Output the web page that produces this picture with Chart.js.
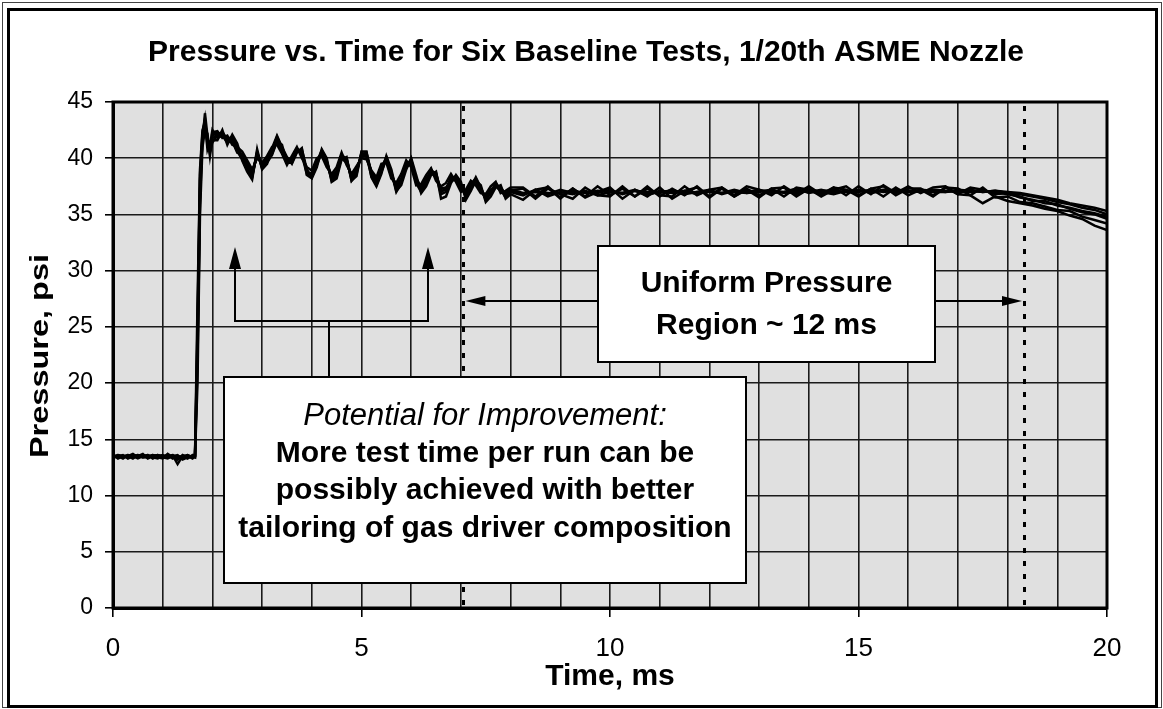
<!DOCTYPE html>
<html>
<head>
<meta charset="utf-8">
<script src="https://cdn.jsdelivr.net/npm/chart.js@4/dist/chart.umd.min.js"></script>
<style>
  html,body{margin:0;padding:0;background:#fff;}
  #wrap{width:1163px;height:709px;}
</style>
</head>
<body>
<div id="wrap"><canvas id="c" width="1163" height="709"></canvas></div>
<script>
// ---------------- DATA ----------------
const chartTitle = "Pressure vs. Time for Six Baseline Tests, 1/20th ASME Nozzle";
const xAxisTitle = "Time, ms";
const yAxisTitle = "Pressure, psi";
const xTickLabels = [0, 5, 10, 15, 20];
const yTickLabels = [0, 5, 10, 15, 20, 25, 30, 35, 40, 45];

// sample times, ms
const timeMs = [
  0,0.1,0.2,0.3,0.4,0.5,0.6,0.7,0.8,0.9,1.0,1.1,1.2,1.3,1.4,1.5,1.6,
  1.65,1.7,1.75,1.8,1.85,1.9,1.95,2.0,
  2.1,2.2,2.3,2.4,2.5,2.6,2.7,2.8,2.9,3.0,
  3.1,3.2,3.3,3.4,3.5,3.6,3.7,3.8,3.9,4.0,
  4.1,4.2,4.3,4.4,4.5,4.6,4.7,4.8,4.9,5.0,
  5.1,5.2,5.3,5.4,5.5,5.6,5.7,5.8,5.9,6.0,
  6.1,6.2,6.3,6.4,6.5,6.6,6.7,6.8,6.9,7.0,
  7.1,7.2,7.3,7.4,7.5,7.6,7.7,7.8,7.9,8.0,
  8.25,8.5,8.75,9,9.25,9.5,9.75,10,10.25,10.5,
  10.75,11,11.25,11.5,11.75,12,12.25,12.5,12.75,13,
  13.25,13.5,13.75,14,14.25,14.5,14.75,15,15.25,15.5,
  15.75,16,16.25,16.5,16.75,17,17.25,17.5,17.75,18,
  18.25,18.5,18.75,19,19.25,19.5,19.75,20
];

// pressure, psi, six baseline tests
const test1 = [
  13.5,13.6,13.4,13.5,13.7,13.4,13.5,13.6,13.3,13.5,13.6,13.4,13.5,13.2,13.6,13.4,13.5,
  13.5,24,38,41.5,44.0,42,40.2,41.8,
  42.0,42.2,41.5,41.8,40.8,40.2,39.2,38.4,40.5,39.2,
  39.8,40.6,41.8,40.8,39.8,39.8,40.8,40.6,38.8,38.5,
  39.6,40.6,39.6,38.2,38.6,40.2,39.8,38.2,38.8,40.4,
  40.4,38.6,37.8,39.0,40.0,38.6,37.3,38.0,39.4,39.8,
  38.0,37.2,38.0,38.9,38.6,37.1,37.2,38.2,38.3,37.4,
  36.8,37.6,38.1,37.2,36.4,37.0,37.7,37.3,36.7,37.0,
  36.7,37.2,36.6,37.0,36.8,37.1,36.7,37.0,36.9,37.2,
  36.8,37.0,36.9,37.1,36.8,37.1,36.9,37.2,36.9,37.0,
  37.2,36.9,37.1,37.0,37.2,36.9,37.1,37.0,37.2,37.0,
  37.1,37.0,37.2,37.1,37.0,37.2,37.1,37.0,37.1,37.0,
  36.9,36.7,36.5,36.3,36.0,35.8,35.6,35.3
];
const test2 = [
  13.4,13.5,13.6,13.3,13.5,13.6,13.4,13.5,13.6,13.4,13.3,13.7,13.4,13.5,13.3,13.6,13.4,
  13.4,22,36,42.0,42.8,41.5,40.8,42.3,
  42.4,41.8,42.0,41.2,41.0,40.6,39.8,39.0,40.0,39.6,
  40.2,41.0,41.2,40.4,39.4,40.2,41.0,40.0,39.2,38.9,
  40.0,40.2,39.2,38.6,39.2,40.5,39.4,38.6,39.3,40.0,
  39.9,38.9,38.3,39.5,39.6,38.2,37.8,38.6,39.8,39.2,
  37.6,37.7,38.5,39.1,38.0,37.5,37.8,38.6,37.9,37.0,
  37.2,38.0,37.6,36.9,36.8,37.5,37.9,36.9,37.1,37.4,
  37.4,36.6,37.5,36.5,37.3,36.6,37.5,36.7,37.3,36.6,
  37.5,36.6,37.3,36.7,37.5,36.6,37.4,36.7,37.5,37.2,
  36.7,37.5,36.8,37.5,36.8,37.4,36.7,37.5,36.8,37.6,
  36.9,37.5,36.9,37.4,37.5,36.8,37.4,37.2,36.8,36.9,
  36.5,36.3,36.0,35.9,35.5,35.2,35.0,34.6
];
const test3 = [
  13.6,13.4,13.5,13.6,13.4,13.5,13.7,13.3,13.5,13.6,13.4,13.5,13.6,12.8,13.5,13.3,13.6,
  13.6,27,39,42.5,43.2,40.8,41.5,41.6,
  41.6,42.5,41.2,42.1,41.3,39.8,38.8,38.1,40.8,39.0,
  39.5,40.9,42.0,41.0,40.1,39.5,40.5,40.9,38.5,38.2,
  39.2,40.8,40.0,37.9,38.2,39.9,40.1,38.0,38.4,40.6,
  40.6,38.3,37.5,38.6,40.2,39.0,37.1,37.6,39.0,40.0,
  38.5,36.9,37.5,38.5,38.8,36.4,36.6,37.8,38.5,37.9,
  36.3,37.1,38.0,37.6,36.1,36.6,37.4,37.6,36.4,36.8,
  36.3,37.2,37.4,36.4,37.3,36.5,37.0,37.4,36.4,37.2,
  36.6,37.4,36.4,37.1,37.4,36.5,37.3,36.6,37.2,36.5,
  37.3,37.4,36.6,37.3,36.6,37.2,37.5,36.7,37.3,36.6,
  37.4,36.7,37.2,36.6,37.4,36.8,36.7,36.0,36.6,36.2,
  36.0,35.8,35.5,35.3,34.9,34.6,34.0,33.6
];
const test4 = [
  13.5,13.5,13.3,13.6,13.5,13.3,13.5,13.6,13.4,13.3,13.5,13.6,13.3,13.5,13.4,13.5,13.3,
  13.5,20,35,41.0,42.5,42.2,40.5,42.0,
  42.3,41.9,41.7,41.5,40.5,40.4,39.5,38.7,40.2,39.5,
  39.6,40.3,41.5,41.2,39.6,40.0,40.9,40.3,38.6,38.7,
  39.8,40.4,39.4,38.4,38.9,40.0,39.6,38.4,39.0,40.2,
  40.2,38.8,38.0,39.2,39.8,38.4,37.5,38.2,39.2,39.6,
  38.2,37.4,38.2,38.7,38.3,37.3,37.4,38.0,38.1,37.2,
  37.0,37.8,37.9,37.0,36.6,37.2,37.5,37.1,36.9,37.2,
  36.9,37.0,36.8,37.2,36.9,37.0,36.9,37.2,36.8,37.1,
  37.0,36.9,37.2,36.8,37.0,37.2,36.8,37.1,37.0,37.2,
  36.9,37.0,37.3,36.9,37.1,37.1,37.0,37.2,36.9,37.1,
  37.2,37.1,37.0,37.2,37.1,37.0,37.2,37.0,37.1,36.9,
  36.8,36.6,36.4,36.1,35.9,35.6,35.4,35.0
];
const test5 = [
  13.3,13.6,13.5,13.4,13.6,13.5,13.4,13.4,13.6,13.5,13.4,13.3,13.5,13.6,13.2,13.4,13.5,
  13.4,25,38.5,42.2,43.5,41.2,41.0,42.5,
  41.8,42.0,41.4,41.6,40.6,39.9,39.0,38.6,40.3,39.4,
  40.0,40.4,41.6,40.6,39.6,39.6,40.6,40.8,39.0,38.3,
  39.4,40.5,39.8,38.0,38.4,40.1,40.0,38.0,38.6,40.5,
  40.2,38.4,37.6,38.8,39.9,38.8,37.0,37.8,39.6,39.6,
  37.8,37.0,37.8,39.0,38.4,36.8,37.0,38.4,38.2,37.6,
  36.6,37.4,38.3,37.4,36.3,36.9,37.8,37.2,36.5,37.1,
  37.3,36.4,37.3,36.8,36.4,37.4,36.7,36.6,37.5,36.6,
  37.3,36.7,36.6,37.5,36.7,37.2,37.4,36.6,37.3,36.7,
  37.3,36.6,37.4,37.2,36.7,37.4,37.2,36.6,37.3,37.5,
  36.7,37.3,37.3,36.7,37.4,37.3,36.7,37.4,36.5,36.6,
  36.1,36.0,35.7,35.4,35.3,34.8,34.5,34.2
];
const test6 = [
  13.6,13.3,13.5,13.5,13.3,13.6,13.5,13.4,13.5,13.6,13.5,13.4,13.6,13.4,13.5,13.6,13.4,
  13.5,23,37,41.8,42.6,41.8,40.6,41.4,
  42.1,42.3,41.7,41.9,41.0,40.0,39.4,38.3,40.6,39.1,
  39.9,40.7,41.9,40.9,39.9,39.9,40.7,40.5,38.9,38.4,
  39.7,40.7,39.7,38.3,38.7,40.3,39.9,38.3,38.9,40.3,
  40.5,38.7,37.9,39.1,40.1,38.7,37.4,38.1,39.3,39.9,
  38.1,37.3,38.1,38.8,38.7,37.0,37.3,38.1,38.4,37.5,
  36.9,37.7,38.2,37.3,36.5,37.1,37.6,37.4,36.8,37.1,
  36.8,37.1,36.9,36.9,37.1,36.9,37.1,37.0,36.9,37.1,
  36.7,37.1,37.0,36.9,37.0,37.0,36.9,37.0,36.9,37.1,
  37.1,37.0,36.9,37.2,37.0,36.8,37.1,37.1,37.0,37.2,
  37.1,37.0,37.1,37.0,37.0,37.1,37.0,37.1,37.0,36.8,
  36.6,36.2,36.2,35.8,35.6,35.3,35.1,34.8
];
const testSeries = [test1, test2, test3, test4, test5, test6];

// uniform-pressure region bounds (ms)
const uniformStartMs = 7.05;
const uniformEndMs = 18.33;

const uniformText = ["Uniform Pressure", "Region ~ 12 ms"];
const improveTitle = "Potential for Improvement:";
const improveText = ["More test time per run can be", "possibly achieved with better", "tailoring of gas driver composition"];

// ---------------- CHART ----------------
const FONT = "'Liberation Sans', Arial, Helvetica, sans-serif";

function arrowHead(ctx, x, y, dir, len, half) {
  ctx.beginPath();
  if (dir === 'left') { ctx.moveTo(x, y); ctx.lineTo(x + len, y - half); ctx.lineTo(x + len, y + half); }
  if (dir === 'right') { ctx.moveTo(x, y); ctx.lineTo(x - len, y - half); ctx.lineTo(x - len, y + half); }
  if (dir === 'up') { ctx.moveTo(x, y); ctx.lineTo(x - half, y + len); ctx.lineTo(x + half, y + len); }
  ctx.closePath(); ctx.fill();
}

const decor = {
  id: 'decor',
  beforeDraw(chart) {
    const { ctx, chartArea: a } = chart;
    ctx.save();
    ctx.fillStyle = '#ffffff';
    ctx.fillRect(0, 0, chart.width, chart.height);
    ctx.fillStyle = '#e0e0e0';
    ctx.fillRect(a.left, a.top, a.right - a.left, a.bottom - a.top);
    ctx.restore();
  },
  beforeDatasetsDraw(chart) {
    const { ctx, chartArea: a, scales } = chart;
    ctx.save();
    ctx.strokeStyle = '#000';
    ctx.lineWidth = 3;
    ctx.setLineDash([5, 8]);
    [uniformStartMs, uniformEndMs].forEach(t => {
      const x = Math.round(scales.x.getPixelForValue(t)) + 0.5;
      ctx.beginPath(); ctx.moveTo(x, a.top + 4); ctx.lineTo(x, a.bottom); ctx.stroke();
    });
    ctx.restore();
  },
  afterDatasetsDraw(chart) {
    const { ctx, chartArea: a, scales } = chart;
    ctx.save();
    // plot border
    ctx.strokeStyle = '#000';
    ctx.lineWidth = 3;
    ctx.strokeRect(a.left, a.top, a.right - a.left, a.bottom - a.top);

    const xs = scales.x;
    const xStart = xs.getPixelForValue(uniformStartMs);
    const xEnd = xs.getPixelForValue(uniformEndMs);

    // uniform region box
    const ub = { l: 598, t: 246, r: 935, b: 362 };
    const arrowY = 301;
    ctx.lineWidth = 2;
    ctx.fillStyle = '#000';
    ctx.beginPath(); ctx.moveTo(ub.l, arrowY); ctx.lineTo(xStart + 14, arrowY); ctx.stroke();
    arrowHead(ctx, xStart + 2, arrowY, 'left', 20, 5);
    ctx.beginPath(); ctx.moveTo(ub.r, arrowY); ctx.lineTo(xEnd - 14, arrowY); ctx.stroke();
    arrowHead(ctx, xEnd - 2, arrowY, 'right', 20, 5);

    ctx.fillStyle = '#fff';
    ctx.fillRect(ub.l, ub.t, ub.r - ub.l, ub.b - ub.t);
    ctx.strokeStyle = '#000';
    ctx.lineWidth = 2;
    ctx.strokeRect(ub.l, ub.t, ub.r - ub.l, ub.b - ub.t);
    ctx.fillStyle = '#000';
    ctx.textAlign = 'center';
    ctx.textBaseline = 'middle';
    ctx.font = 'bold 30px ' + FONT;
    ctx.fillText(uniformText[0], (ub.l + ub.r) / 2, 284);
    ctx.fillText(uniformText[1], (ub.l + ub.r) / 2, 326);

    // improvement bracket with arrows
    const bx1 = 235, bx2 = 428, bStem = 329, bY = 321, tipY = 247;
    ctx.lineWidth = 2;
    ctx.beginPath();
    ctx.moveTo(bStem, 377); ctx.lineTo(bStem, bY);
    ctx.moveTo(bx1, tipY + 18); ctx.lineTo(bx1, bY); ctx.lineTo(bx2, bY); ctx.lineTo(bx2, tipY + 18);
    ctx.stroke();
    arrowHead(ctx, bx1, tipY, 'up', 22, 6);
    arrowHead(ctx, bx2, tipY, 'up', 22, 6);

    // improvement box
    const pb = { l: 224, t: 377, r: 746, b: 583 };
    ctx.fillStyle = '#fff';
    ctx.fillRect(pb.l, pb.t, pb.r - pb.l, pb.b - pb.t);
    ctx.strokeRect(pb.l, pb.t, pb.r - pb.l, pb.b - pb.t);
    ctx.fillStyle = '#000';
    const cx = (pb.l + pb.r) / 2;
    ctx.font = 'italic 31px ' + FONT;
    ctx.fillText(improveTitle, cx, 416);
    ctx.font = 'bold 30px ' + FONT;
    ctx.fillText(improveText[0], cx, 454);
    ctx.fillText(improveText[1], cx, 491);
    ctx.fillText(improveText[2], cx, 529);
    ctx.restore();
  },
  afterDraw(chart) {
    const { ctx } = chart;
    ctx.save();
    // outer frame
    ctx.strokeStyle = '#444';
    ctx.lineWidth = 1;
    ctx.strokeRect(2.5, 2.5, 1159, 705);
    ctx.strokeStyle = '#000';
    ctx.lineWidth = 3;
    ctx.strokeRect(8.5, 9.5, 1148, 697);
    // title
    ctx.fillStyle = '#000';
    ctx.textAlign = 'center';
    ctx.textBaseline = 'middle';
    ctx.font = 'bold 30px ' + FONT;
    ctx.fillText(chartTitle, 586, 53);
    // x axis title
    ctx.font = 'bold 30px ' + FONT;
    ctx.fillText(xAxisTitle, 610, 677);
    // y axis title (stretched along its length like the scan)
    ctx.translate(41, 356);
    ctx.rotate(-Math.PI / 2);
    ctx.scale(1.3, 1);
    ctx.font = 'bold 25px ' + FONT;
    ctx.fillText(yAxisTitle, 0, 0);
    ctx.restore();
  }
};

const datasets = testSeries.map((s, k) => ({
  label: 'Test ' + (k + 1),
  data: s.map((v, i) => ({ x: timeMs[i], y: v })),
  borderColor: '#000',
  borderWidth: 2.5,
  pointRadius: 0,
  tension: 0,
  fill: false
}));

new Chart(document.getElementById('c'), {
  type: 'line',
  data: { datasets },
  options: {
    responsive: false,
    animation: false,
    devicePixelRatio: 1,
    layout: { padding: { top: 102, right: 56, left: 0, bottom: 0 } },
    plugins: { legend: { display: false }, title: { display: false }, tooltip: { enabled: false } },
    scales: {
      x: {
        type: 'linear', min: 0, max: 20,
        afterFit(s) { s.height = 101; },
        ticks: {
          stepSize: 1, autoSkip: false, maxRotation: 0,
          color: '#000', font: { family: FONT, size: 26 }, padding: 16,
          callback: v => (xTickLabels.includes(v) ? String(v) : '')
        },
        grid: {
          color: '#1a1a1a', lineWidth: 1.6, drawTicks: true, tickLength: 9,
          tickColor: c => (c.tick && xTickLabels.includes(c.tick.value) ? '#000' : 'rgba(0,0,0,0)'),
          tickWidth: 1.6
        },
        border: { display: true, color: '#000', width: 3 }
      },
      y: {
        type: 'linear', min: 0, max: 45,
        afterFit(s) { s.width = 113; },
        ticks: {
          stepSize: 5, color: '#000', font: { family: FONT, size: 23 }, padding: 12,
          callback: v => (yTickLabels.includes(v) ? String(v) : '')
        },
        grid: { color: '#1a1a1a', lineWidth: 1.6, drawTicks: true, tickLength: 8, tickColor: '#000', tickWidth: 1.6 },
        border: { display: true, color: '#000', width: 3 }
      }
    }
  },
  plugins: [decor]
});
</script>
</body>
</html>
